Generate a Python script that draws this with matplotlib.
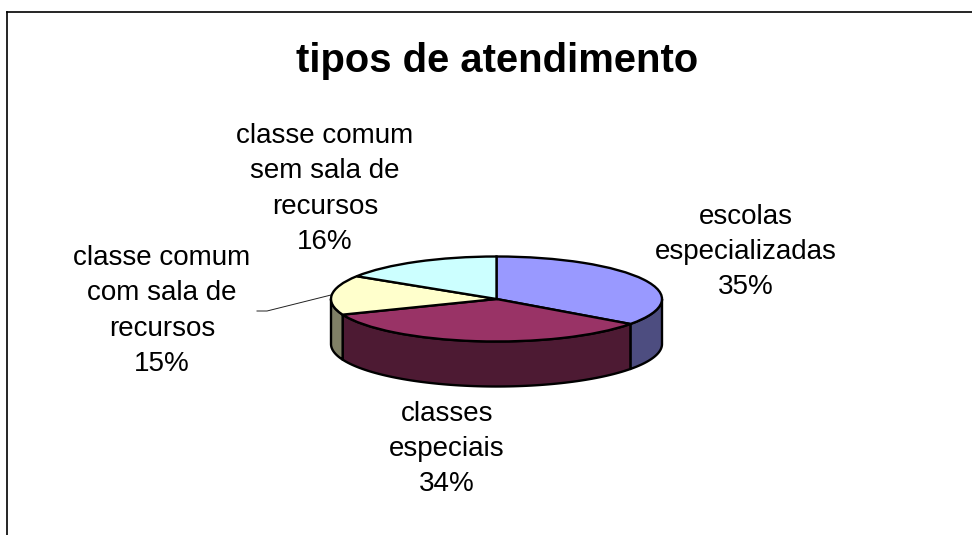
import numpy as np
import matplotlib
matplotlib.use("Agg")
import matplotlib.pyplot as plt
from matplotlib.patches import Polygon

plt.rcParams['font.family'] = ['Liberation Sans', 'DejaVu Sans']

# data
labels = ["escolas\nespecializadas\n35%", "classes\nespeciais\n34%",
          "classe comum\ncom sala de\nrecursos\n15%", "classe comum\nsem sala de\nrecursos\n16%"]
values = [35, 34, 15, 16]
colors = ["#9999FF", "#993366", "#FFFFCC", "#CCFFFF"]
side_colors = ["#4D4D80", "#4D1A33", "#808066", "#668080"]

W, H = 972, 535
fig = plt.figure(figsize=(W / 100, H / 100), dpi=100)
bg = fig.add_axes([0, 0, 1, 1])
bg.set_xlim(0, W)
bg.set_ylim(H, 0)
bg.axis("off")

# chart frame, the right and bottom edges are cut off
bg.plot([7, 7], [H, 12], color="black", lw=1.2)
bg.plot([7, W], [12, 12], color="black", lw=1.2)

cx, cy, rx, ry, depth = 496.5, 299, 165.5, 42.5, 45

# side walls, only the front half shows
fracs = np.cumsum([0] + values) / sum(values) * 360
for i in range(len(values)):
    t0 = max(fracs[i], 90)
    t1 = min(fracs[i + 1], 270)
    if t1 <= t0:
        continue
    t = np.radians(np.linspace(t0, t1, 80))
    x = cx + rx * np.sin(t)
    y = cy - ry * np.cos(t)
    pts = np.r_[np.c_[x, y], np.c_[x[::-1], y[::-1] + depth]]
    bg.add_patch(Polygon(pts, closed=True, fc=side_colors[i], ec="black", lw=1.7, joinstyle="round", zorder=2))

# top of the pie
ax = fig.add_axes([(cx - rx) / W, 1 - (cy + ry) / H, 2 * rx / W, 2 * ry / H])
ax.patch.set_alpha(0)
ax.pie(values, colors=colors, startangle=90, counterclock=False, radius=1,
       wedgeprops={"edgecolor": "black", "linewidth": 1.7})
ax.set_aspect("auto")
ax.set_xlim(-1, 1)
ax.set_ylim(-1, 1)
for w in ax.patches:
    w.set_clip_on(False)

# texts
bg.text(497, 61, "tipos de atendimento", fontsize=28.8, fontweight="bold", ha="center", va="center")
label_xy = [(746, 252), (447, 449), (162, 311), (325, 189)]
for lab, (lx, ly) in zip(labels, label_xy):
    bg.text(lx, ly, lab, fontsize=20, ha="center", va="center", linespacing=1.46, color="black")

# leader line
bg.plot([257, 267, 331], [311, 311, 295], color="#222222", lw=0.7, zorder=1)

fig.savefig("out.png", dpi=100, facecolor="white")
